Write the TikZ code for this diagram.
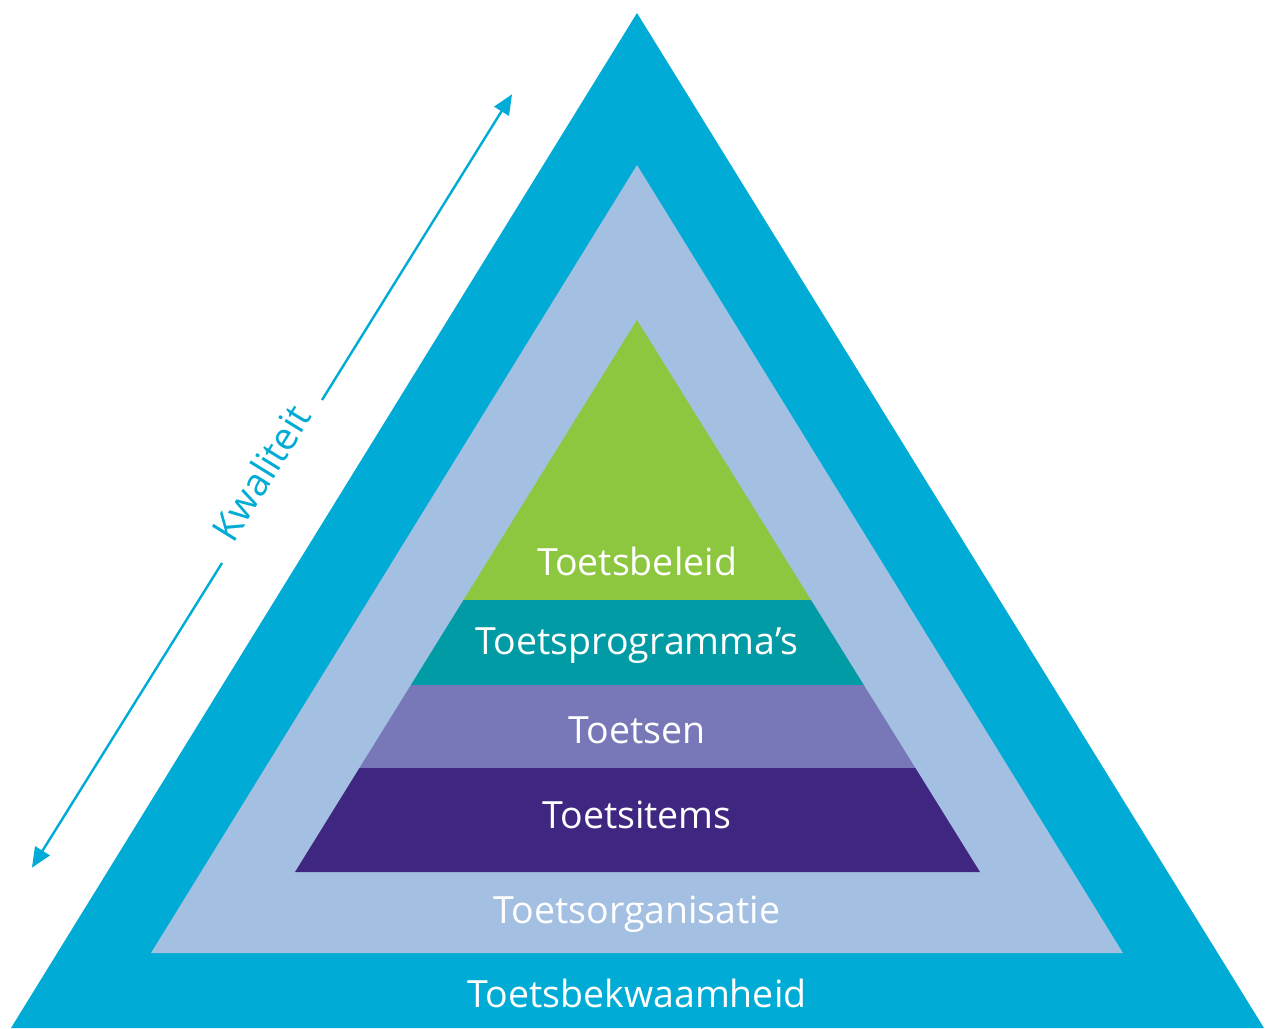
\documentclass[tikz,border=0pt]{standalone}
\usepackage{fontspec}
\setmainfont{Open Sans}
\usepackage{tikz}
\usetikzlibrary{arrows.meta, positioning}

\definecolor{outerblue}{RGB}{0,171,213}
\definecolor{lightblue}{RGB}{163,192,227}
\definecolor{beleidgreen}{RGB}{141,198,63}
\definecolor{progteal}{RGB}{0,155,164}
\definecolor{toetslav}{RGB}{120,120,184}
\definecolor{itempurple}{RGB}{63,38,128}

\begin{document}
\begin{tikzpicture}[
    x=1pt, y=-1pt,
    >={Triangle[length=20pt, width=17pt]},
    % Styles
    layerlabel/.style={font=\fontsize{37.5}{44}\selectfont, text=white, anchor=center, inner sep=0pt},
    arrowstyle/.style={->, line width=2.4pt, color=outerblue, shorten >=-2pt},
    sidelabel/.style={font=\fontsize{38}{44}\selectfont, text=outerblue, rotate=58.2, inner sep=0pt},
]
\useasboundingbox (0,0) rectangle (1266,1028);

% === OUTER TRIANGLE ===
\fill[outerblue] (637,13) -- (1264,1028) -- (11,1028) -- cycle;

% === MIDDLE TRIANGLE ===
\fill[lightblue] (637,165) -- (1123,953) -- (151,953) -- cycle;

% === INNER PYRAMID ===
\begin{scope}
  \clip (637,320) -- (980,872) -- (295,872) -- cycle;
  \fill[beleidgreen] (280,300) rectangle (1000,600);
  \fill[progteal] (280,600) rectangle (1000,685);
  \fill[toetslav] (280,685) rectangle (1000,768);
  \fill[itempurple] (280,768) rectangle (1000,880);
\end{scope}

% === LAYER LABELS ===
\node[layerlabel] (beleid) at (637,561) {Toetsbeleid};
\node[layerlabel] (programma) at (637,646) {Toetsprogramma’s};
\node[layerlabel] (toetsen) at (637,730) {Toetsen};
\node[layerlabel] (items) at (637,815) {Toetsitems};
\node[layerlabel] (organisatie) at (637,914) {Toetsorganisatie};
\node[layerlabel] (bekwaamheid) at (637,993) {Toetsbekwaamheid};

% === QUALITY ARROW ===
\coordinate (low) at (33,866);
\coordinate (high) at (511,96);
\coordinate (gaplow) at (222,563);
\coordinate (gaphigh) at (322,400);
\node[sidelabel] (kwaliteit) at (261,473) {Kwaliteit};
\draw[arrowstyle] (gaphigh) -- (high);
\draw[arrowstyle] (gaplow) -- (low);

\end{tikzpicture}
\end{document}
